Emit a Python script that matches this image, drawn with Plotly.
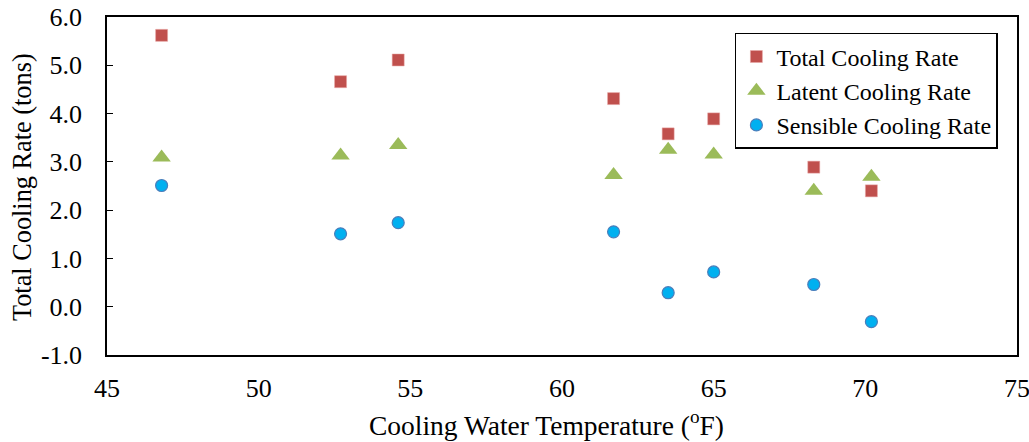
import plotly.graph_objects as go

temps = [46.8, 52.7, 54.6, 61.7, 63.5, 65.0, 68.3, 70.2]
total = [5.62, 4.66, 5.11, 4.31, 3.58, 3.89, 2.89, 2.40]
latent = [3.09, 3.13, 3.35, 2.73, 3.25, 3.15, 2.40, 2.69]
sensible = [2.51, 1.51, 1.74, 1.55, 0.29, 0.72, 0.46, -0.31]

x_ticks = [45, 50, 55, 60, 65, 70, 75]
y_ticks = [-1, 0, 1, 2, 3, 4, 5, 6]

x_title = "Cooling Water Temperature (<sup>o</sup>F)"
y_title = "Total Cooling Rate (tons)"

font = "Liberation Serif, Times New Roman, serif"

fig = go.Figure()
fig.add_trace(go.Scatter(x=temps, y=total, mode="markers", name="Total Cooling Rate",
                         marker=dict(symbol="square", size=12, color="#C0504D",
                                     line=dict(width=0.5, color="#E8A6A4"))))
fig.add_trace(go.Scatter(x=temps, y=latent, mode="markers", name="Latent Cooling Rate",
                         marker=dict(symbol="triangle-up", size=16, color="#9BBB59",
                                     line=dict(width=0))))
fig.add_trace(go.Scatter(x=temps, y=sensible, mode="markers", name="Sensible Cooling Rate",
                         marker=dict(symbol="circle", size=12, color="#00B0F0",
                                     line=dict(width=1.2, color="#4A7EBB"))))

fig.update_layout(
    width=1029, height=442,
    margin=dict(l=107, r=12, t=17, b=87, autoexpand=False),
    paper_bgcolor="white", plot_bgcolor="white",
    font=dict(family=font, size=26, color="black"),
    showlegend=True,
    legend=dict(x=0.690, y=0.953, xanchor="left", yanchor="top",
                bordercolor="black", borderwidth=1.5, bgcolor="white",
                font=dict(family=font, size=24, color="black"),
                itemwidth=30, tracegroupgap=0),
    xaxis=dict(range=[45, 75], tickvals=x_ticks, ticktext=[str(v) for v in x_ticks],
               showgrid=False, zeroline=False, showline=True, linecolor="black",
               linewidth=1.5, mirror=True, ticks="", ticklabelstandoff=9,
               automargin=False, ticklabeloverflow="allow",
               tickfont=dict(family=font, size=26)),
    yaxis=dict(range=[-1, 6], tickvals=y_ticks, ticktext=[f"{v:.1f}" for v in y_ticks],
               showgrid=False, zeroline=False, showline=True, linecolor="black",
               linewidth=1.5, mirror=True, ticks="inside", ticklen=6, tickcolor="black",
               ticklabelstandoff=18, automargin=False, ticklabeloverflow="allow",
               tickfont=dict(family=font, size=26)),
    annotations=[
        dict(text=x_title, xref="paper", yref="paper", x=0.4835, y=-0.204,
             xanchor="center", yanchor="middle", showarrow=False,
             font=dict(family=font, size=27.5, color="black")),
        dict(text=y_title, xref="paper", yref="paper", x=-0.0934, y=0.497,
             xanchor="center", yanchor="middle", showarrow=False, textangle=-90,
             font=dict(family=font, size=26.3, color="black")),
    ],
)

fig.write_html("out.html")
